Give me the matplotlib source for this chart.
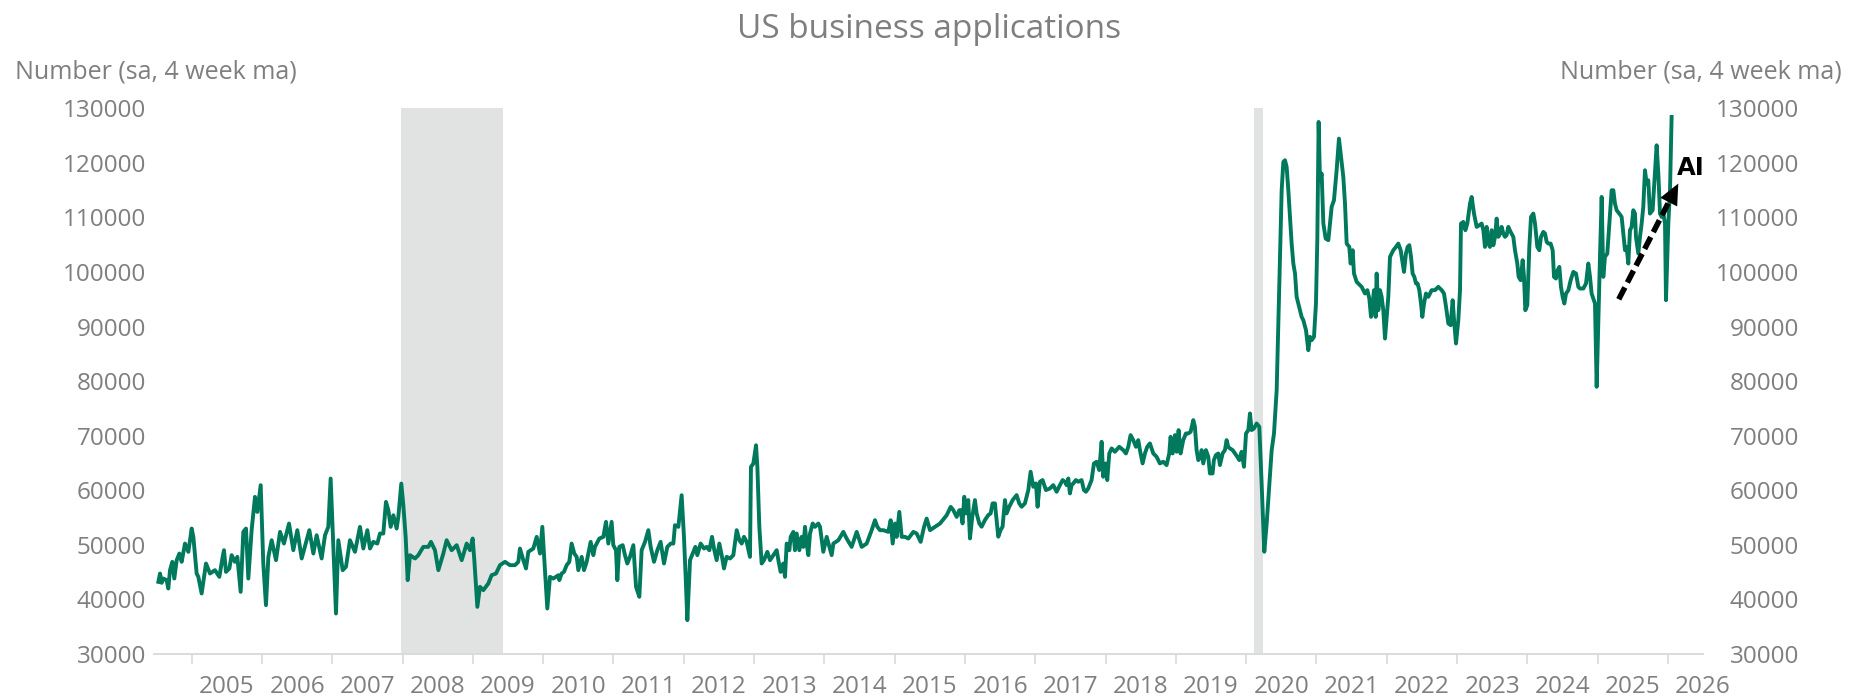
import matplotlib
matplotlib.use("Agg")
import matplotlib.pyplot as plt
import numpy as np

# ---------------- data (decimal year, weekly business applications, 4wk ma) ----------------
dates_2004_2010 = [
    2004.526, 2004.550, 2004.573, 2004.597, 2004.644, 2004.668, 2004.692, 2004.725,
    2004.753, 2004.787, 2004.825, 2004.858, 2004.905, 2004.953, 2005.000, 2005.024,
    2005.071, 2005.095, 2005.142, 2005.204, 2005.261, 2005.332, 2005.394, 2005.441,
    2005.460, 2005.488, 2005.536, 2005.569, 2005.616, 2005.650, 2005.697, 2005.735,
    2005.773, 2005.806, 2005.853, 2005.901, 2005.934, 2005.982, 2006.019, 2006.057,
    2006.091, 2006.138, 2006.200, 2006.257, 2006.313, 2006.385, 2006.446, 2006.503,
    2006.565, 2006.636, 2006.674, 2006.731, 2006.778, 2006.849, 2006.897, 2006.944,
    2006.977, 2007.015, 2007.053, 2007.086, 2007.148, 2007.195, 2007.252, 2007.323,
    2007.394, 2007.442, 2007.499, 2007.537, 2007.584, 2007.641, 2007.679, 2007.726,
    2007.764, 2007.798, 2007.831, 2007.869, 2007.916, 2007.940, 2007.982, 2008.011,
    2008.044, 2008.073, 2008.106, 2008.177, 2008.224, 2008.295, 2008.367, 2008.404,
    2008.461, 2008.509, 2008.580, 2008.627, 2008.698, 2008.770, 2008.841, 2008.912,
    2008.959, 2008.997, 2009.021, 2009.064, 2009.101, 2009.149, 2009.220, 2009.267,
    2009.329, 2009.386, 2009.457, 2009.528, 2009.599, 2009.647, 2009.670, 2009.718,
    2009.756, 2009.789, 2009.860, 2009.908, 2009.955, 2009.988, 2010.059, 2010.097,
    2010.145, 2010.216]
apps_2004_2010 = [
    43220, 44750, 43040, 43830, 43530, 42000, 45360, 46890,
    43830, 47190, 48410, 46890, 50240, 48720, 52990, 51470,
    44750, 44140, 41090, 46580, 44750, 45360, 44140, 47800,
    49020, 45050, 45670, 48110, 46890, 47800, 41390, 52380,
    52990, 43830, 52690, 58790, 56040, 60930, 46580, 38950,
    47800, 50850, 47190, 52380, 50240, 53910, 49020, 52690,
    47500, 50850, 52690, 48410, 51770, 47500, 51770, 53300,
    62150, 49630, 37420, 50850, 45360, 45970, 50850, 48720,
    53300, 49330, 52690, 49330, 50550, 50240, 52080, 52080,
    57880, 56350, 53300, 55430, 52990, 55130, 61230, 57260,
    51470, 43530, 48110, 47500, 48110, 49630, 49630, 50550,
    49020, 45360, 48410, 50850, 49020, 49940, 47190, 50240,
    49020, 51160, 47190, 38640, 42310, 41700, 42920, 44440,
    44750, 46280, 46890, 46280, 46280, 46890, 49330, 47190,
    45670, 48720, 49330, 51470, 48410, 53300, 38340, 44140,
    43830, 44440]

dates_2010_2015 = [
    2010.230, 2010.263, 2010.296, 2010.334, 2010.372, 2010.405, 2010.443, 2010.477,
    2010.500, 2010.548, 2010.581, 2010.619, 2010.676, 2010.714, 2010.737, 2010.799,
    2010.856, 2010.894, 2010.927, 2010.974, 2010.998, 2011.036, 2011.055, 2011.083,
    2011.131, 2011.164, 2011.197, 2011.235, 2011.283, 2011.321, 2011.368, 2011.401,
    2011.449, 2011.496, 2011.529, 2011.577, 2011.624, 2011.671, 2011.719, 2011.766,
    2011.814, 2011.852, 2011.875, 2011.923, 2011.970, 2012.003, 2012.027, 2012.051,
    2012.089, 2012.127, 2012.165, 2012.193, 2012.240, 2012.288, 2012.326, 2012.364,
    2012.402, 2012.430, 2012.468, 2012.506, 2012.544, 2012.572, 2012.610, 2012.658,
    2012.705, 2012.753, 2012.791, 2012.824, 2012.857, 2012.895, 2012.942, 2012.956,
    2012.990, 2013.028, 2013.047, 2013.075, 2013.108, 2013.141, 2013.189, 2013.227,
    2013.274, 2013.322, 2013.350, 2013.378, 2013.416, 2013.440, 2013.464, 2013.502,
    2013.521, 2013.559, 2013.582, 2013.606, 2013.644, 2013.677, 2013.701, 2013.725,
    2013.748, 2013.772, 2013.796, 2013.834, 2013.867, 2013.914, 2013.938, 2013.985,
    2014.033, 2014.104, 2014.128, 2014.199, 2014.270, 2014.317, 2014.388, 2014.460,
    2014.531, 2014.602, 2014.673, 2014.720, 2014.754, 2014.792, 2014.839, 2014.910,
    2014.943, 2014.972, 2015.005, 2015.029, 2015.066, 2015.100, 2015.147, 2015.195,
    2015.266, 2015.313, 2015.370, 2015.418, 2015.455, 2015.503, 2015.574, 2015.645,
    2015.702, 2015.740, 2015.797, 2015.835, 2015.882, 2015.920]
apps_2010_2015 = [
    43530, 44750, 45050, 46280, 46890, 50240, 48410, 47800,
    45360, 47800, 45360, 46890, 50550, 48110, 49630, 51160,
    51470, 54210, 50240, 54210, 49940, 49020, 43530, 49630,
    49940, 48110, 46580, 47800, 49940, 42310, 40480, 49020,
    50550, 52690, 49630, 46890, 49020, 50550, 46580, 49630,
    50240, 50240, 53600, 53300, 59100, 51470, 44140, 36200,
    47190, 48410, 49630, 48110, 50240, 49330, 49630, 49020,
    51470, 49330, 47190, 50240, 47800, 45670, 47800, 47500,
    48110, 52690, 50850, 50240, 51470, 50550, 47800, 64290,
    64900, 68250, 64290, 53300, 46580, 47190, 48720, 47190,
    48110, 49020, 46890, 45050, 46580, 44140, 50240, 49020,
    51470, 52380, 49020, 52080, 49020, 51470, 49630, 53300,
    50240, 48110, 52080, 53910, 53300, 53910, 53300, 48720,
    51470, 48110, 50240, 50850, 52380, 51160, 49630, 52380,
    49630, 50240, 52690, 54520, 53300, 52690, 52690, 52380,
    54520, 50240, 53910, 51470, 56040, 51470, 51470, 51160,
    52380, 52080, 50550, 53300, 54820, 52690, 53300, 53910,
    54820, 55430, 56960, 56350, 55130, 56350]

dates_2016_2019 = [
    2015.938, 2015.966, 2015.990, 2016.014, 2016.047, 2016.071, 2016.104, 2016.142,
    2016.166, 2016.204, 2016.237, 2016.284, 2016.332, 2016.365, 2016.393, 2016.426,
    2016.450, 2016.474, 2016.507, 2016.535, 2016.569, 2016.592, 2016.630, 2016.678,
    2016.735, 2016.772, 2016.806, 2016.853, 2016.901, 2016.934, 2016.972, 2017.010,
    2017.033, 2017.066, 2017.104, 2017.152, 2017.209, 2017.256, 2017.304, 2017.351,
    2017.389, 2017.422, 2017.446, 2017.470, 2017.493, 2017.517, 2017.541, 2017.578,
    2017.612, 2017.659, 2017.692, 2017.721, 2017.754, 2017.801, 2017.835, 2017.872,
    2017.910, 2017.944, 2017.967, 2018.001, 2018.024, 2018.053, 2018.086, 2018.133,
    2018.195, 2018.252, 2018.290, 2018.323, 2018.356, 2018.394, 2018.432, 2018.465,
    2018.489, 2018.527, 2018.560, 2018.593, 2018.631, 2018.679, 2018.726, 2018.773,
    2018.821, 2018.868, 2018.906, 2018.925, 2018.954, 2018.987, 2019.011, 2019.039,
    2019.067, 2019.105, 2019.143, 2019.176, 2019.210, 2019.248, 2019.271, 2019.295,
    2019.319, 2019.352, 2019.366, 2019.390, 2019.428, 2019.461, 2019.485, 2019.522,
    2019.541, 2019.570, 2019.603, 2019.627, 2019.665, 2019.698, 2019.722, 2019.745]
apps_2016_2019 = [
    56370, 53930, 58810, 55760, 58200, 51180, 55150, 58200,
    55760, 53930, 53320, 54540, 55460, 55760, 57600, 57600,
    54540, 51490, 52710, 53320, 58200, 55760, 56980, 58200,
    59120, 57600, 56980, 57600, 60040, 63400, 60650, 61260,
    56980, 61560, 61870, 60040, 60340, 60950, 59730, 60950,
    61870, 61560, 60950, 62170, 59430, 60950, 61260, 61870,
    61560, 61870, 60040, 59730, 60340, 61870, 64920, 65230,
    63700, 68890, 62480, 64920, 61870, 66750, 67670, 67060,
    67970, 67360, 66750, 67970, 70110, 69190, 67970, 69190,
    67360, 64920, 66750, 67970, 68580, 66750, 66140, 64920,
    65230, 64620, 66750, 69800, 66750, 70110, 67060, 71030,
    66750, 69190, 70415, 70415, 70720, 72860, 71640, 67360,
    65530, 66140, 67360, 64920, 67360, 66140, 63090, 63090,
    65530, 66450, 66750, 64620, 66750, 67360, 69190, 67970]

dates_2020_2024 = [
    2019.770, 2019.808, 2019.841, 2019.874, 2019.903, 2019.936, 2019.969, 2019.998,
    2020.031, 2020.054, 2020.078, 2020.111, 2020.149, 2020.187, 2020.220, 2020.258,
    2020.292, 2020.330, 2020.363, 2020.396, 2020.434, 2020.458, 2020.481, 2020.505,
    2020.529, 2020.552, 2020.576, 2020.600, 2020.623, 2020.647, 2020.671, 2020.695,
    2020.718, 2020.742, 2020.766, 2020.789, 2020.813, 2020.851, 2020.884, 2020.908,
    2020.932, 2020.965, 2020.993, 2021.012, 2021.031, 2021.050, 2021.074, 2021.098,
    2021.131, 2021.169, 2021.192, 2021.216, 2021.249, 2021.287, 2021.320, 2021.349,
    2021.382, 2021.406, 2021.430, 2021.467, 2021.486, 2021.515, 2021.534, 2021.572,
    2021.595, 2021.643, 2021.690, 2021.724, 2021.752, 2021.776, 2021.799, 2021.818,
    2021.842, 2021.856, 2021.880, 2021.904, 2021.927, 2021.951, 2021.975, 2021.999,
    2022.022, 2022.046, 2022.070, 2022.093, 2022.131, 2022.164, 2022.198, 2022.226,
    2022.245, 2022.273, 2022.297, 2022.321, 2022.345, 2022.368, 2022.392, 2022.416,
    2022.439, 2022.463, 2022.487, 2022.506, 2022.530, 2022.558, 2022.591, 2022.639,
    2022.686, 2022.733, 2022.781, 2022.814, 2022.843, 2022.876, 2022.909, 2022.937,
    2022.961, 2022.985, 2023.018, 2023.042, 2023.056, 2023.089, 2023.118, 2023.146,
    2023.184, 2023.208, 2023.241, 2023.279, 2023.317, 2023.350, 2023.374, 2023.397,
    2023.421, 2023.445, 2023.468, 2023.492, 2023.516, 2023.540, 2023.563, 2023.587,
    2023.611, 2023.634, 2023.658, 2023.682, 2023.705, 2023.729, 2023.762, 2023.800,
    2023.824, 2023.857, 2023.876, 2023.905, 2023.933, 2023.952, 2023.971, 2023.999,
    2024.028, 2024.052, 2024.085, 2024.109, 2024.142, 2024.170, 2024.194, 2024.227,
    2024.251, 2024.275, 2024.298, 2024.331, 2024.360, 2024.379, 2024.407, 2024.431,
    2024.455, 2024.478, 2024.502, 2024.526, 2024.550, 2024.583, 2024.616, 2024.654,
    2024.692, 2024.725, 2024.749]
apps_2020_2024 = [
    67670, 67360, 66750, 66140, 65530, 67060, 64310, 70420,
    71030, 74080, 71030, 71330, 72250, 71640, 61260, 48740,
    53930, 61260, 67360, 70420, 78350, 90560, 102770, 114980,
    120170, 120480, 119260, 114980, 110100, 105210, 101550, 99720,
    95450, 94225, 93000, 91780, 91170, 89340, 85680, 88120,
    87510, 88120, 94225, 105830, 127500, 116810, 118030, 108880,
    106130, 105830, 108880, 111930, 113150, 118650, 124440, 121090,
    117420, 112540, 105210, 104600, 101550, 103990, 99720, 98190,
    97890, 97280, 96060, 96670, 95140, 91780, 94225, 96670,
    91780, 99720, 93000, 96670, 95450, 93000, 87810, 91780,
    95450, 102770, 103380, 103990, 104600, 105210, 103990, 101550,
    100020, 103380, 104600, 104910, 102770, 99720, 99110, 97890,
    97890, 96670, 94225, 91780, 94225, 96060, 95450, 96670,
    96670, 97280, 96670, 96060, 93620, 90560, 90260, 94830,
    90560, 86900, 91170, 96670, 108880, 109180, 107660, 108880,
    112540, 113760, 110710, 108270, 108570, 108880, 107660, 104600,
    108270, 105210, 104600, 107660, 104910, 106440, 109790, 106440,
    107050, 108270, 107050, 106440, 106740, 108270, 107350, 106440,
    103990, 101550, 99110, 98500, 102160, 99110, 93000, 93920,
    104600, 110100, 110710, 108880, 104600, 103990, 106440, 107350,
    107050, 105520, 105210, 105210, 103990, 99110, 98800, 100330,
    100940, 97280, 95450, 94225, 96060, 96670, 98500, 100020,
    99720, 97280, 96970]

dates_2025 = [
    2024.796, 2024.834, 2024.867, 2024.891, 2024.914, 2024.938, 2024.962, 2024.986,
    2025.009, 2025.033, 2025.057, 2025.080, 2025.104, 2025.137, 2025.166, 2025.199,
    2025.223, 2025.246, 2025.270, 2025.308, 2025.341, 2025.365, 2025.389, 2025.412,
    2025.436, 2025.460, 2025.483, 2025.507, 2025.531, 2025.545, 2025.578, 2025.602,
    2025.626, 2025.649, 2025.673, 2025.697, 2025.720, 2025.744, 2025.782, 2025.815,
    2025.839, 2025.863, 2025.887, 2025.910, 2025.934, 2025.958, 2025.972, 2025.991,
    2026.005, 2026.029, 2026.052]
apps_2025 = [
    96970, 97890, 101550, 99110, 96060, 95140, 94225, 78960,
    90560, 102770, 113760, 99110, 102770, 103380, 108880, 114980,
    114980, 112540, 111320, 110710, 110100, 107050, 103990, 104600,
    101550, 107660, 108270, 111320, 110710, 106440, 103380, 106440,
    108880, 111930, 118650, 116200, 116810, 110710, 111320, 118030,
    123220, 118030, 110710, 110100, 110710, 108880, 94835, 102770,
    108880, 114980, 128410]

recessions = [(2007.98, 2009.425), (2020.11, 2020.235)]
year_ticks = list(range(2005, 2027))
y_ticks = list(range(30000, 130001, 10000))
ai_arrow_start = (2025.30, 95000)
ai_arrow_tip = (2026.147, 116210)
ai_label_pos = (2026.32, 119100)

# ---------------- styling ----------------
plt.rcParams["font.family"] = ["Open Sans", "DejaVu Sans"]
GRAY = "#7f7f7f"
LINE = "#00795c"
BAND = "#e1e2e2"
AXC = "#d9d9d9"
FS = 17.5

W, H = 1859, 700
fig = plt.figure(figsize=(W / 100, H / 100), dpi=100)
fig.patch.set_facecolor("white")

XMIN, XMAX = 2004.47, 2026.5
PXY = 70.3
ax = fig.add_axes([154.4 / W, 46 / H, (XMAX - XMIN) * PXY / W, 545.7 / H])
ax.set_facecolor("white")

years = np.concatenate([dates_2004_2010, dates_2010_2015, dates_2016_2019,
                        dates_2020_2024, dates_2025])
apps = np.concatenate([apps_2004_2010, apps_2010_2015, apps_2016_2019,
                       apps_2020_2024, apps_2025])

for a, b in recessions:
    ax.axvspan(a, b, color=BAND, lw=0, zorder=0)

ax.plot(years, apps, color=LINE, lw=2.8, solid_joinstyle="round", zorder=3)

ax.set_xlim(XMIN, XMAX)
ax.set_ylim(30000, 130000)

ax.set_yticks(y_ticks)
ax.set_yticklabels([str(v) for v in y_ticks])
ax.tick_params(axis="y", length=0, pad=6, labelsize=FS, labelcolor=GRAY)

ax.set_xticks(year_ticks)
ax.set_xticklabels([])
ax.set_xticks([y + 0.5 for y in year_ticks], minor=True)
ax.set_xticklabels([str(y) for y in year_ticks], minor=True)
ax.tick_params(axis="x", which="major", length=7, width=1.2, color=AXC, direction="out")
ax.tick_params(axis="x", which="minor", length=0, pad=15, labelsize=FS, labelcolor=GRAY)

for s in ["left", "right", "top"]:
    ax.spines[s].set_visible(False)
ax.spines["bottom"].set_color(AXC)
ax.spines["bottom"].set_linewidth(1.3)

ax2 = ax.twinx()
ax2.set_ylim(30000, 130000)
ax2.set_yticks(y_ticks)
ax2.set_yticklabels([str(v) for v in y_ticks], ha="right")
ax2.tick_params(axis="y", length=0, pad=69, labelsize=FS, labelcolor=GRAY)
for s in ["left", "right", "top", "bottom"]:
    ax2.spines[s].set_visible(False)

# AI arrow
sx, sy = ai_arrow_start
tx, ty = ai_arrow_tip
bx = sx + (tx - sx) * 0.84
by = sy + (ty - sy) * 0.84
ax2.plot([sx, bx], [sy, by], color="black", lw=4.0, dashes=(2.4, 1.0),
         dash_capstyle="butt", zorder=6, clip_on=False)
ax2.annotate("", xy=(tx, ty), xytext=(sx, sy),
             arrowprops=dict(arrowstyle="-|>,head_length=1.5,head_width=0.68",
                             mutation_scale=10, color="black", lw=0.01,
                             shrinkA=0, shrinkB=0),
             zorder=6, annotation_clip=False)
ax2.text(ai_label_pos[0], ai_label_pos[1], "AI", fontsize=17.5, fontweight="bold",
         family="DejaVu Sans", ha="center", va="center", color="black", zorder=7)

# titles
fig.text(929 / W, 1 - 30 / H, "US business applications", ha="center", va="center",
         fontsize=24, color=GRAY)
fig.text(15 / W, 1 - 72 / H, "Number (sa, 4 week ma)", ha="left", va="center",
         fontsize=18, color=GRAY)
fig.text(1842 / W, 1 - 72 / H, "Number (sa, 4 week ma)", ha="right", va="center",
         fontsize=18, color=GRAY)

fig.savefig("out.png", dpi=100, facecolor="white")
